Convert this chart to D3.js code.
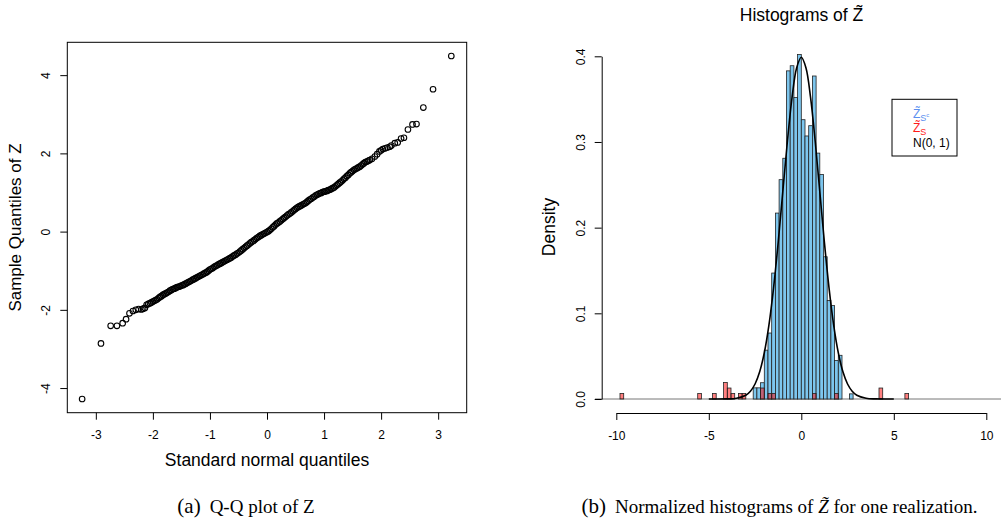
<!DOCTYPE html>
<html>
<head>
<meta charset="utf-8">
<script src="https://cdn.jsdelivr.net/npm/d3@7"></script>
<style>
  body { margin: 0; background: #fff; }
  svg { display: block; font-family: "Liberation Sans", Arial, sans-serif; }
</style>
</head>
<body>
<div id="chart"></div>
<script>
// ---- data ----

// Q-Q plot: theoretical (x) vs sample (y) quantiles
const qqX = [
  -3.24, -2.91, -2.74, -2.63, -2.53, -2.47, -2.41, -2.35, -2.30, -2.25, -2.20, -2.17, -2.14, -2.11, -2.08,
  -2.050, -2.025, -2.000, -1.975, -1.950, -1.925, -1.900, -1.875, -1.850, -1.825, -1.800, -1.775, -1.750,
  -1.725, -1.700, -1.675, -1.650, -1.625, -1.600, -1.575, -1.550, -1.525, -1.500, -1.475, -1.450, -1.425,
  -1.400, -1.375, -1.350, -1.325, -1.300, -1.275, -1.250, -1.225, -1.200, -1.175, -1.150, -1.125, -1.100,
  -1.075, -1.050, -1.025, -1.000, -0.975, -0.950, -0.925, -0.900, -0.875, -0.850, -0.825, -0.800, -0.775,
  -0.750, -0.725, -0.700, -0.675, -0.650, -0.625, -0.600, -0.575, -0.550, -0.525, -0.500, -0.475, -0.450,
  -0.425, -0.400, -0.375, -0.350, -0.325, -0.300, -0.275, -0.250, -0.225, -0.200, -0.175, -0.150, -0.125,
  -0.100, -0.075, -0.050, -0.025, 0.000, 0.025, 0.050, 0.075, 0.100, 0.125, 0.150, 0.175, 0.200, 0.225,
  0.250, 0.275, 0.300, 0.325, 0.350, 0.375, 0.400, 0.425, 0.450, 0.475, 0.500, 0.525, 0.550, 0.575, 0.600,
  0.625, 0.650, 0.675, 0.700, 0.725, 0.750, 0.775, 0.800, 0.825, 0.850, 0.875, 0.900, 0.925, 0.950, 0.975,
  1.000, 1.025, 1.050, 1.075, 1.100, 1.125, 1.150, 1.175, 1.200, 1.225, 1.250, 1.275, 1.300, 1.325, 1.350,
  1.375, 1.400, 1.425, 1.450, 1.475, 1.500, 1.525, 1.550, 1.575, 1.600, 1.625, 1.650, 1.675, 1.700, 1.725,
  1.750, 1.775,
  1.80, 1.84, 1.89, 1.93, 1.97, 2.00, 2.03, 2.07, 2.11, 2.15, 2.18, 2.24, 2.29, 2.35, 2.40, 2.47, 2.55,
  2.62, 2.74, 2.91, 3.23
];
const qqY = [
  -4.28, -2.86, -2.41, -2.41, -2.34, -2.24, -2.09, -2.03, -2.00, -1.98, -1.99, -1.97, -1.95, -1.87, -1.85,
  -1.83, -1.81, -1.79, -1.77, -1.75, -1.73, -1.70, -1.67, -1.65, -1.62, -1.60, -1.58, -1.56,
  -1.54, -1.51, -1.49, -1.47, -1.46, -1.44, -1.42, -1.41, -1.40, -1.38, -1.37, -1.35, -1.33,
  -1.31, -1.29, -1.27, -1.25, -1.23, -1.21, -1.19, -1.17, -1.15, -1.13, -1.11, -1.09, -1.07,
  -1.05, -1.03, -1.00, -0.97, -0.95, -0.93, -0.90, -0.88, -0.86, -0.84, -0.82, -0.80, -0.78,
  -0.76, -0.74, -0.72, -0.70, -0.68, -0.66, -0.63, -0.61, -0.59, -0.56, -0.54, -0.51, -0.48,
  -0.45, -0.42, -0.39, -0.36, -0.33, -0.30, -0.27, -0.25, -0.22, -0.19, -0.16, -0.14, -0.11,
  -0.09, -0.07, -0.05, -0.03, -0.01, 0.01, 0.04, 0.07, 0.11, 0.14, 0.18, 0.21, 0.23, 0.26,
  0.29, 0.32, 0.35, 0.38, 0.41, 0.44, 0.46, 0.49, 0.52, 0.55, 0.58, 0.61, 0.63, 0.65, 0.67,
  0.69, 0.71, 0.73, 0.76, 0.79, 0.82, 0.84, 0.87, 0.89, 0.92, 0.94, 0.96, 0.98, 0.99, 1.01,
  1.02, 1.03, 1.04, 1.06, 1.07, 1.09, 1.11, 1.13, 1.16, 1.19, 1.22, 1.25, 1.28, 1.31, 1.35,
  1.38, 1.42, 1.45, 1.49, 1.52, 1.55, 1.58, 1.60, 1.62, 1.64, 1.66, 1.69, 1.72, 1.75, 1.78,
  1.79, 1.81,
  1.83, 1.86, 1.92, 1.98, 2.05, 2.08, 2.11, 2.13, 2.15, 2.17, 2.20, 2.26, 2.28, 2.38, 2.40, 2.61, 2.74,
  2.75, 3.17, 3.64, 4.49
];
const qqXTicks = [-3, -2, -1, 0, 1, 2, 3];
const qqYTicks = [-4, -2, 0, 2, 4];

// Histograms: left edge of each bin and its density
const binWidth = 0.2;
const blueBinStart = [-2.6, -2.4, -2.2, -2.0, -1.8, -1.6, -1.4, -1.2, -1.0, -0.8, -0.6, -0.4, -0.2,
  0.0, 0.2, 0.4, 0.6, 0.8, 1.0, 1.2, 1.4, 1.6, 1.8, 2.0, 2.6];
const blueDensity = [0.013, 0.013, 0.019, 0.057, 0.077, 0.147, 0.217, 0.256, 0.281, 0.383, 0.389, 0.352, 0.402,
  0.326, 0.307, 0.319, 0.377, 0.287, 0.262, 0.166, 0.115, 0.109, 0.045, 0.051, 0.006];
const redBinStart = [-9.8, -5.6, -4.8, -4.2, -4.0, -3.8, -3.4, -3.2, -2.2, -1.8, -1.6, 0.6, 1.8, 4.2, 5.6];
const redDensity = [0.0064, 0.0064, 0.0064, 0.0192, 0.0128, 0.0064, 0.0064, 0.0064, 0.0128, 0.0064, 0.0064,
  0.0064, 0.0064, 0.0128, 0.0064];

// N(0,1) curve as drawn
const normX = [-5, -4, -3.5, -3, -2.75, -2.5, -2.25, -2, -1.75, -1.5, -1.25, -1, -0.75, -0.5, -0.25, 0,
  0.25, 0.5, 0.75, 1, 1.25, 1.5, 1.75, 2, 2.25, 2.5, 2.75, 3, 3.5, 4, 5];
const normY = [0, 0.0001, 0.0009, 0.0044, 0.0091, 0.0175, 0.0317, 0.054, 0.0863, 0.1295, 0.1826, 0.242,
  0.3011, 0.3521, 0.3867, 0.3989, 0.3867, 0.3521, 0.3011, 0.242, 0.1826, 0.1295, 0.0863, 0.054, 0.0317,
  0.0175, 0.0091, 0.0044, 0.0009, 0.0001, 0];
const histXTicks = [-10, -5, 0, 5, 10];
const histYTicks = [0, 0.1, 0.2, 0.3, 0.4];

const width = 1001;
const height = 523;
const serif = '"Liberation Serif", "Times New Roman", serif';

const svg = d3.select('#chart')
  .append('svg')
  .attr('width', width)
  .attr('height', height);

svg.append('rect').attr('width', width).attr('height', height).attr('fill', '#fff');

drawQQ();
drawHist();
drawCaptions();

/**
 * Panel (a): Q-Q plot
 */
function drawQQ() {
  const box = { left: 67.3, right: 466.7, top: 42.3, bottom: 412.7 };

  const x = d3.scaleLinear().domain([-3.5, 3.5]).range([box.left, box.right]);
  const y = d3.scaleLinear().domain([-4.63, 4.84]).range([box.bottom, box.top]);

  svg.append('rect')
    .attr('x', box.left)
    .attr('y', box.top)
    .attr('width', box.right - box.left)
    .attr('height', box.bottom - box.top)
    .attr('fill', 'none')
    .attr('stroke', '#000')
    .attr('stroke-width', 1);

  const pts = qqX.map((v, i) => ({ x: v, y: qqY[i] }));
  svg.append('g')
    .selectAll('circle')
    .data(pts)
    .join('circle')
    .attr('cx', d => x(d.x))
    .attr('cy', d => y(d.y))
    .attr('r', 2.8)
    .attr('fill', 'none')
    .attr('stroke', '#000')
    .attr('stroke-width', 1.1);

  const xAxis = svg.append('g')
    .attr('transform', `translate(0,${box.bottom})`)
    .call(d3.axisBottom(x).tickValues(qqXTicks).tickFormat(d => String(d))
      .tickSize(7).tickSizeOuter(0).tickPadding(11));
  styleAxis(xAxis);
  xAxis.select('.domain').remove();

  const yAxis = svg.append('g')
    .attr('transform', `translate(${box.left},0)`)
    .call(d3.axisLeft(y).tickValues(qqYTicks).tickFormat(d => String(d))
      .tickSize(7).tickSizeOuter(0));
  styleAxis(yAxis);
  yAxis.select('.domain').remove();
  rotateYLabels(yAxis, -17.3);

  svg.append('text')
    .attr('x', (box.left + box.right) / 2)
    .attr('y', 466)
    .attr('text-anchor', 'middle')
    .attr('font-size', '17.5px')
    .text('Standard normal quantiles');

  svg.append('text')
    .attr('transform', `translate(21,${(box.top + box.bottom) / 2}) rotate(-90)`)
    .attr('text-anchor', 'middle')
    .attr('font-size', '17px')
    .text('Sample Quantiles of Z');
}

/**
 * Panel (b): overlaid histograms with N(0,1) density
 */
function drawHist() {
  const x = d3.scaleLinear().domain([-10, 10]).range([616.3, 986.3]);
  const y = d3.scaleLinear().domain([0, 0.4]).range([399, 56.3]);

  // zero-height bins show as a grey line along the base
  svg.append('line')
    .attr('x1', x(-11.15))
    .attr('x2', width)
    .attr('y1', y(0))
    .attr('y2', y(0))
    .attr('stroke', '#777')
    .attr('stroke-width', 1);

  const blue = blueBinStart.map((v, i) => ({ x0: v, d: blueDensity[i] }));
  svg.append('g')
    .selectAll('rect')
    .data(blue)
    .join('rect')
    .attr('x', d => x(d.x0))
    .attr('y', d => y(d.d))
    .attr('width', d => x(d.x0 + binWidth) - x(d.x0))
    .attr('height', d => y(0) - y(d.d))
    .attr('fill', '#7dc6ee')
    .attr('stroke', '#222')
    .attr('stroke-width', 0.8);

  const red = redBinStart.map((v, i) => ({ x0: v, d: redDensity[i] }));
  svg.append('g')
    .selectAll('rect')
    .data(red)
    .join('rect')
    .attr('x', d => x(d.x0))
    .attr('y', d => y(d.d))
    .attr('width', d => x(d.x0 + binWidth) - x(d.x0))
    .attr('height', d => y(0) - y(d.d))
    .attr('fill', 'rgba(255,0,0,0.5)')
    .attr('stroke', '#222')
    .attr('stroke-width', 0.8);

  const line = d3.line()
    .x(d => x(d[0]))
    .y(d => y(d[1]))
    .curve(d3.curveCatmullRom);
  svg.append('path')
    .datum(normX.map((v, i) => [v, normY[i]]))
    .attr('d', line)
    .attr('fill', 'none')
    .attr('stroke', '#000')
    .attr('stroke-width', 1.6);

  const xAxis = svg.append('g')
    .attr('transform', 'translate(0,413)')
    .call(d3.axisBottom(x).tickValues(histXTicks).tickFormat(d => String(d))
      .tickSize(7).tickSizeOuter(0).tickPadding(11));
  styleAxis(xAxis);

  const yAxis = svg.append('g')
    .attr('transform', 'translate(601.7,0)')
    .call(d3.axisLeft(y).tickValues(histYTicks).tickFormat(d => d.toFixed(1))
      .tickSize(7).tickSizeOuter(0));
  styleAxis(yAxis);
  rotateYLabels(yAxis, -16.7);

  svg.append('text')
    .attr('x', 801.5)
    .attr('y', 21)
    .attr('text-anchor', 'middle')
    .attr('font-size', '17.5px')
    .text('Histograms of Z\u0303');

  svg.append('text')
    .attr('transform', 'translate(555,227) rotate(-90)')
    .attr('text-anchor', 'middle')
    .attr('font-size', '17.5px')
    .text('Density');

  // legend
  svg.append('rect')
    .attr('x', 892)
    .attr('y', 99.3)
    .attr('width', 65)
    .attr('height', 56.7)
    .attr('fill', '#fff')
    .attr('stroke', '#000')
    .attr('stroke-width', 1);

  const l1 = svg.append('text').attr('x', 913).attr('y', 118).attr('font-size', '12px').attr('fill', '#5b8ff0');
  l1.append('tspan').text('Z\u0303');
  l1.append('tspan').attr('font-size', '9px').attr('dy', 3).text('S');
  l1.append('tspan').attr('font-size', '6px').attr('dy', -4).text('c');

  const l2 = svg.append('text').attr('x', 913).attr('y', 132).attr('font-size', '12px').attr('fill', '#ff1a1a');
  l2.append('tspan').text('Z\u0303');
  l2.append('tspan').attr('font-size', '9px').attr('dy', 3).text('S');

  svg.append('text')
    .attr('x', 913)
    .attr('y', 147)
    .attr('font-size', '12px')
    .attr('fill', '#000')
    .text('N(0, 1)');
}

/**
 * Sub-figure captions under each panel
 */
function drawCaptions() {
  const a = svg.append('text')
    .attr('x', 246)
    .attr('y', 513)
    .attr('text-anchor', 'middle')
    .attr('font-family', serif)
    .attr('font-size', '19px');
  a.append('tspan').attr('font-size', '21px').text('(a)');
  a.append('tspan').attr('dx', 9).text('Q-Q plot of Z');

  const b = svg.append('text')
    .attr('x', 779.5)
    .attr('y', 513)
    .attr('text-anchor', 'middle')
    .attr('font-family', serif)
    .attr('font-size', '19px');
  b.append('tspan').attr('font-size', '21px').text('(b)');
  b.append('tspan').attr('dx', 9).text('Normalized histograms of ');
  b.append('tspan').attr('font-style', 'italic').text('Z\u0303');
  b.append('tspan').text(' for one realization.');
}

function styleAxis(g) {
  g.selectAll('text')
    .attr('font-family', '"Liberation Sans", Arial, sans-serif')
    .attr('font-size', '12px')
    .attr('fill', '#000');
  g.selectAll('line').attr('stroke', '#000');
  g.selectAll('.domain').attr('stroke', '#000');
}

function rotateYLabels(g, offset) {
  g.selectAll('.tick text')
    .attr('x', 0)
    .attr('dy', 0)
    .attr('text-anchor', 'middle')
    .attr('transform', `translate(${offset},0) rotate(-90)`);
}
</script>
</body>
</html>
